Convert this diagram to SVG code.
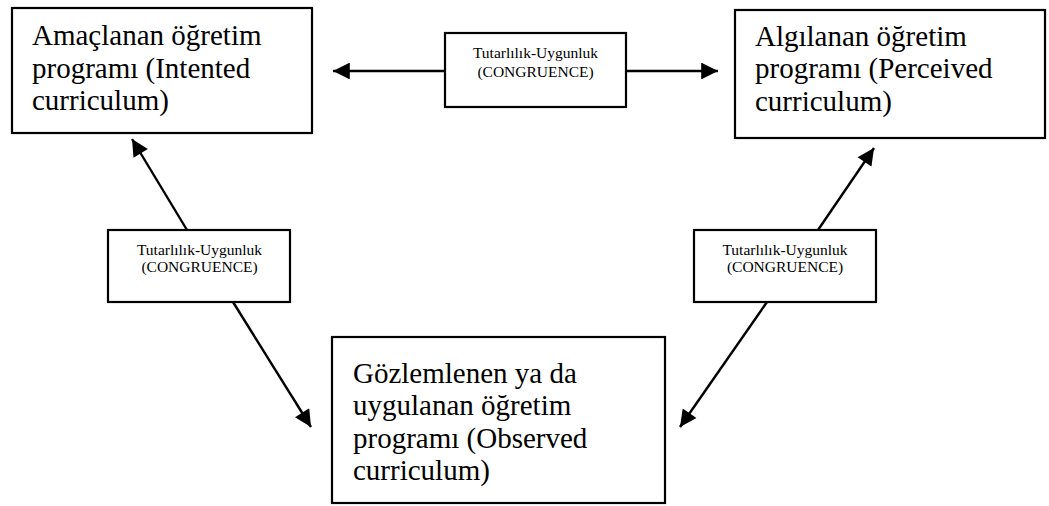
<svg xmlns="http://www.w3.org/2000/svg" width="1049" height="506" viewBox="0 0 1049 506">
<style>
.box{fill:#fff;stroke:#000;stroke-width:2.2}
.big{font-family:"Liberation Serif","Times New Roman",serif;font-size:29px;fill:#000}
.small{font-family:"Liberation Serif","Times New Roman",serif;font-size:15.5px;fill:#000;text-anchor:middle}
.conn line{stroke:#000;stroke-width:2.4;fill:none}
</style>
<defs>
<marker id="ah" viewBox="0 0 10 10" refX="10" refY="5" markerWidth="7.5" markerHeight="7" markerUnits="strokeWidth" orient="auto">
<path d="M0,0 L10,5 L0,10 Z" fill="#000"/>
</marker>
</defs>
<rect width="1049" height="506" fill="#fff"/>
<g id="connectors" class="conn">
<line x1="445" y1="71" x2="333" y2="71" marker-end="url(#ah)"/>
<line x1="626" y1="71" x2="718" y2="71" marker-end="url(#ah)"/>
<line x1="187" y1="230" x2="132" y2="139" marker-end="url(#ah)"/>
<line x1="233" y1="302" x2="311" y2="427" marker-end="url(#ah)"/>
<line x1="818" y1="230" x2="874" y2="148" marker-end="url(#ah)"/>
<line x1="767" y1="302" x2="680" y2="427" marker-end="url(#ah)"/>
</g>
<g id="intended">
<rect class="box" x="12" y="8" width="300" height="125"/>
<text class="big" x="32" y="45">Amaçlanan öğretim</text>
<text class="big" x="32" y="78">programı (Intented</text>
<text class="big" x="32" y="110">curriculum)</text>
</g>
<g id="perceived">
<rect class="box" x="735" y="10" width="310" height="128"/>
<text class="big" x="755" y="46">Algılanan öğretim</text>
<text class="big" x="755" y="78">programı (Perceived</text>
<text class="big" x="755" y="111">curriculum)</text>
</g>
<g id="observed">
<rect class="box" x="332" y="337" width="333" height="166"/>
<text class="big" x="353" y="383">Gözlemlenen ya da</text>
<text class="big" x="353" y="415">uygulanan öğretim</text>
<text class="big" x="353" y="448">programı (Observed</text>
<text class="big" x="353" y="480">curriculum)</text>
</g>
<g id="congruence-top">
<rect class="box" x="445" y="33" width="181" height="74"/>
<text class="small" x="535.5" y="58">Tutarlılık-Uygunluk</text>
<text class="small" x="535.5" y="77">(CONGRUENCE)</text>
</g>
<g id="congruence-left">
<rect class="box" x="108" y="230" width="182" height="72"/>
<text class="small" x="199.5" y="255">Tutarlılık-Uygunluk</text>
<text class="small" x="199.5" y="272">(CONGRUENCE)</text>
</g>
<g id="congruence-right">
<rect class="box" x="694" y="230" width="182" height="72"/>
<text class="small" x="785" y="255">Tutarlılık-Uygunluk</text>
<text class="small" x="785" y="272">(CONGRUENCE)</text>
</g>
</svg>
